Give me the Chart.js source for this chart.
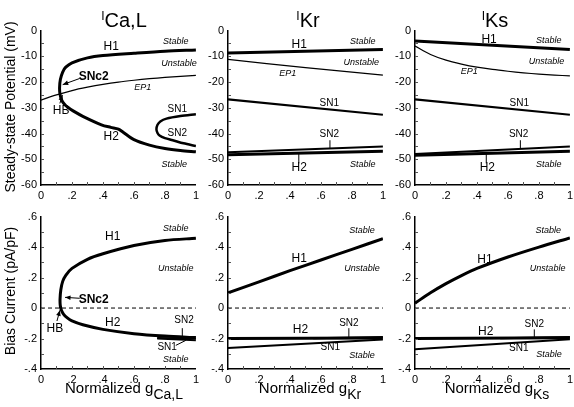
<!DOCTYPE html>
<html>
<head>
<meta charset="utf-8">
<script src="https://cdn.jsdelivr.net/npm/chart.js@4.4.1/dist/chart.umd.min.js"></script>
<style>
  body { margin:0; background:#fff; }
  #wrap { position:relative; width:574px; height:407px; background:#fff; overflow:hidden;
          font-family:"Liberation Sans", Arial, Helvetica, sans-serif; color:#000; }
  canvas { position:absolute; }
  .ttl { position:absolute; width:120px; top:10px; font-size:20px; line-height:20px; text-align:center; white-space:nowrap; }
  .ttl span { font-size:12px; position:relative; top:-7px; }
  .xt { position:absolute; width:180px; top:380px; font-size:15px; line-height:15px; text-align:center; white-space:nowrap; }
  .xt span { font-size:14px; position:relative; top:6px; }
  .yt { position:absolute; width:220px; height:16px; font-size:14px; line-height:16px; text-align:center;
        white-space:nowrap; transform:rotate(-90deg); transform-origin:center; }
</style>
</head>
<body>
<div id="wrap">
  <canvas id="c1"></canvas><canvas id="c2"></canvas><canvas id="c3"></canvas>
  <canvas id="c4"></canvas><canvas id="c5"></canvas><canvas id="c6"></canvas>
  <div class="ttl" style="left:64px"><span>I</span>Ca,L</div>
  <div class="ttl" style="left:248px"><span>I</span>Kr</div>
  <div class="ttl" style="left:435px"><span>I</span>Ks</div>
  <div class="xt" style="left:34px">Normalized g<span>Ca,L</span></div>
  <div class="xt" style="left:220px">Normalized g<span>Kr</span></div>
  <div class="xt" style="left:407px">Normalized g<span>Ks</span></div>
  <div class="yt" style="left:-100px;top:99px">Steady-state Potential (mV)</div>
  <div class="yt" style="left:-100px;top:283px">Bias Current (pA/pF)</div>
</div>
<script>
// tick values / labels
var gTickVals = [0, 0.2, 0.4, 0.6, 0.8, 1];
var gTickText = ['0', '.2', '.4', '.6', '.8', '1'];
var vTickVals = [-60, -50, -40, -30, -20, -10, 0];
var vTickText = ['-60', '-50', '-40', '-30', '-20', '-10', '0'];
var iTickVals = [-0.4, -0.2, 0, 0.2, 0.4, 0.6];
var iTickText = ['-.4', '-.2', '0', '.2', '.4', '.6'];

// ---- top row: steady-state potential (mV) ----
// ICa,L : H1/H2 branch (one C shaped curve, upper end first)
var caH_g = [1, 0.8, 0.6, 0.4, 0.3, 0.2, 0.16, 0.14, 0.125, 0.12, 0.122, 0.132, 0.15, 0.175, 0.21, 0.27, 0.39, 0.45, 0.5, 0.53, 0.6, 0.7, 0.8, 0.9, 1];
var caH_v = [-7.5, -8.0, -8.8, -9.7, -10.6, -12.5, -14.2, -16.1, -19, -22, -24.5, -26.8, -28.5, -29.9, -31.3, -33.3, -36.6, -37.6, -38.3, -39.5, -42.4, -44.5, -45.8, -46.6, -47.1];
var caEP1_g = [0, 0.1, 0.2, 0.3, 0.4, 0.5, 0.6, 0.7, 0.8, 0.9, 1];
var caEP1_v = [-27, -25, -23.3, -22, -20.9, -20, -19.3, -18.7, -18.2, -17.8, -17.4];
var caSN_g = [1, 0.9, 0.81, 0.77, 0.752, 0.745, 0.752, 0.765, 0.8, 0.85, 0.92, 1];
var caSN_v = [-32.5, -33.2, -34.2, -35.3, -36.6, -38.3, -39.8, -40.8, -41.8, -42.6, -43.8, -44.9];
// IKr
var krH1_g = [0, 1], krH1_v = [-8.7, -7.3];
var krEP1_g = [0, 0.5, 1], krEP1_v = [-11.2, -14.4, -17.3];
var krSN1_g = [0, 1], krSN1_v = [-26.7, -32.7];
var krSN2_g = [0, 1], krSN2_v = [-47.3, -45];
var krH2_g = [0, 1], krH2_v = [-48.2, -46.9];
// IKs
var ksH1_g = [0, 1], ksH1_v = [-4, -7.3];
var ksEP1_g = [0, 0.1, 0.2, 0.3, 0.4, 0.5, 0.6, 0.7, 0.8, 0.9, 1];
var ksEP1_v = [-6, -9.3, -11.5, -13, -14.2, -15.1, -15.8, -16.4, -16.9, -17.3, -17.6];
var ksSN1_g = [0, 1], ksSN1_v = [-26.7, -32.7];
var ksSN2_g = [0, 1], ksSN2_v = [-48, -45];
var ksH2_g = [0, 1], ksH2_v = [-48.4, -46.9];

// ---- bottom row: bias current (pA/pF) ----
var zero_g = [0, 1], zero_i = [0, 0];
var caHI_g = [1, 0.8, 0.6, 0.4, 0.3, 0.2, 0.16, 0.14, 0.128, 0.123, 0.124, 0.13, 0.145, 0.17, 0.2, 0.27, 0.4, 0.6, 0.8, 1];
var caHI_i = [0.458, 0.443, 0.41, 0.356, 0.32, 0.26, 0.215, 0.175, 0.12, 0.06, 0.02, -0.01, -0.04, -0.065, -0.085, -0.11, -0.14, -0.168, -0.184, -0.194];
var caSN1I_g = [0.75, 1], caSN1I_i = [-0.2, -0.212];
var caSN2I_g = [0.75, 1], caSN2I_i = [-0.197, -0.2];
var krH1I_g = [0, 0.2, 0.4, 0.6, 0.8, 1], krH1I_i = [0.1, 0.172, 0.245, 0.315, 0.385, 0.455];
var krH2I_g = [0, 1], krH2I_i = [-0.2, -0.197];
var krSN2I_g = [0.55, 1], krSN2I_i = [-0.198, -0.19];
var krSN1I_g = [0, 1], krSN1I_i = [-0.262, -0.207];
var ksH1I_g = [0, 0.1, 0.2, 0.3, 0.4, 0.6, 0.8, 1], ksH1I_i = [0.032, 0.1, 0.16, 0.213, 0.26, 0.335, 0.4, 0.46];
var ksH2I_g = [0, 1], ksH2I_i = [-0.2, -0.195];
var ksSN2I_g = [0.55, 1], ksSN2I_i = [-0.198, -0.19];
var ksSN1I_g = [0, 1], ksSN1I_i = [-0.27, -0.205];

var SANS = '"Liberation Sans", Arial, Helvetica, sans-serif';
var IT = 'italic 9px ' + SANS, N12 = '12px ' + SANS, N10 = '10px ' + SANS, B12 = 'bold 12px ' + SANS;

function line(g, v, w, tension, dash)
{
  return {
    data: g.map(function(x, i){ return {x: x, y: v[i]}; }),
    showLine: true, borderColor: '#000', borderWidth: w, pointRadius: 0,
    tension: tension || 0, fill: false, borderDash: dash || []
  };
}

// labels, leader lines and the small inside ticks
function notes(texts, lines, minorY)
{
  return {
    id: 'notes',
    afterDatasetsDraw: function(chart){
      var ctx = chart.ctx, sx = chart.scales.x, sy = chart.scales.y, a = chart.chartArea;
      ctx.save();
      ctx.strokeStyle = '#555'; ctx.lineWidth = 1;
      for (var k = 1; k < 10; k++) {
        var px = Math.round(sx.getPixelForValue(k / 10)) + 0.5;
        ctx.beginPath(); ctx.moveTo(px, a.bottom); ctx.lineTo(px, a.bottom - 3); ctx.stroke();
      }
      for (var v = sy.min + minorY; v < sy.max - 1e-9; v += minorY) {
        var py = Math.round(sy.getPixelForValue(v)) + 0.5;
        ctx.beginPath(); ctx.moveTo(a.left, py); ctx.lineTo(a.left + 3, py); ctx.stroke();
      }
      ctx.strokeStyle = '#000'; ctx.fillStyle = '#000';
      lines.forEach(function(l){
        var x1 = sx.getPixelForValue(l[0]), y1 = sy.getPixelForValue(l[1]);
        var x2 = sx.getPixelForValue(l[2]), y2 = sy.getPixelForValue(l[3]);
        ctx.lineWidth = 1;
        ctx.beginPath(); ctx.moveTo(x1, y1); ctx.lineTo(x2, y2); ctx.stroke();
        if (l[4]) {
          var ang = Math.atan2(y2 - y1, x2 - x1);
          ctx.beginPath();
          ctx.moveTo(x2, y2);
          ctx.lineTo(x2 - 6 * Math.cos(ang - 0.4), y2 - 6 * Math.sin(ang - 0.4));
          ctx.lineTo(x2 - 6 * Math.cos(ang + 0.4), y2 - 6 * Math.sin(ang + 0.4));
          ctx.closePath(); ctx.fill();
        }
      });
      ctx.textAlign = 'center'; ctx.textBaseline = 'middle';
      texts.forEach(function(t){
        ctx.font = t[3];
        ctx.fillText(t[0], sx.getPixelForValue(t[1]), sy.getPixelForValue(t[2]));
      });
      ctx.restore();
    }
  };
}

function makePanel(id, left, top, h, yMin, yMax, yVals, yText, minorY, datasets, texts, lines)
{
  var W = 156, padL = 40, padT = 10, padR = 6, xH = 24;
  var cv = document.getElementById(id);
  cv.width = padL + W + padR; cv.height = padT + h + xH;
  cv.style.left = (left - padL) + 'px'; cv.style.top = (top - padT) + 'px';
  var tickFont = {family: SANS, size: 11};
  new Chart(cv, {
    type: 'scatter',
    data: {datasets: datasets},
    options: {
      responsive: false, animation: false, devicePixelRatio: 1,
      layout: {padding: {top: padT, right: padR, left: 0, bottom: 0}},
      plugins: {legend: {display: false}, tooltip: {enabled: false}},
      scales: {
        x: {
          type: 'linear', min: 0, max: 1,
          afterBuildTicks: function(s){ s.ticks = gTickVals.map(function(v){ return {value: v}; }); },
          afterFit: function(s){ s.height = xH; },
          ticks: {padding: 4, color: '#000', font: tickFont, maxRotation: 0,
                  callback: function(v, i){ return gTickText[i]; }},
          grid: {display: true, drawOnChartArea: false, drawTicks: false},
          border: {display: true, color: '#000', width: 1.5}
        },
        y: {
          type: 'linear', min: yMin, max: yMax,
          afterBuildTicks: function(s){ s.ticks = yVals.map(function(v){ return {value: v}; }); },
          afterFit: function(s){ s.width = padL; },
          ticks: {padding: 4, color: '#000', font: tickFont,
                  callback: function(v, i){ return yText[i]; }},
          grid: {display: true, drawOnChartArea: false, drawTicks: false},
          border: {display: true, color: '#000', width: 1.5}
        }
      }
    },
    plugins: [notes(texts, lines, minorY)]
  });
}

// ICa,L potential
makePanel('c1', 41, 30, 155, -60, 0, vTickVals, vTickText, 5, [
  line(caH_g, caH_v, 3, 0.3),
  line(caEP1_g, caEP1_v, 1.2, 0.3),
  line(caSN_g, caSN_v, 2.5, 0.3)
], [
  ['Stable', 0.87, -4.1, IT], ['H1', 0.453, -6.3, N12], ['Unstable', 0.89, -12.7, IT],
  ['SNc2', 0.34, -18, B12], ['EP1', 0.656, -22, IT], ['HB', 0.13, -31, N12],
  ['SN1', 0.88, -30.7, N10], ['SN2', 0.88, -40, N10], ['H2', 0.453, -41.3, N12], ['Stable', 0.86, -51.9, IT]
], [
  [0.25, -18.6, 0.14, -21, true], [0.122, -28.3, 0.138, -25, true]
]);

// IKr potential
makePanel('c2', 228, 30, 155, -60, 0, vTickVals, vTickText, 5, [
  line(krH1_g, krH1_v, 3),
  line(krEP1_g, krEP1_v, 1.2, 0.3),
  line(krSN1_g, krSN1_v, 2.2),
  line(krSN2_g, krSN2_v, 2),
  line(krH2_g, krH2_v, 3)
], [
  ['Stable', 0.87, -4.3, IT], ['H1', 0.46, -5.5, N12], ['Unstable', 0.86, -12.4, IT],
  ['EP1', 0.385, -16.5, IT], ['SN1', 0.654, -28.1, N10], ['SN2', 0.654, -40.4, N10],
  ['H2', 0.46, -53.3, N12], ['Stable', 0.87, -51.9, IT]
], [
  [0.658, -42.6, 0.658, -45.8], [0.457, -47.4, 0.457, -51.6]
]);

// IKs potential
makePanel('c3', 415, 30, 155, -60, 0, vTickVals, vTickText, 5, [
  line(ksH1_g, ksH1_v, 3),
  line(ksEP1_g, ksEP1_v, 1.2, 0.3),
  line(ksSN1_g, ksSN1_v, 2.2),
  line(ksSN2_g, ksSN2_v, 2),
  line(ksH2_g, ksH2_v, 3)
], [
  ['H1', 0.478, -3.6, N12], ['Stable', 0.864, -3.9, IT], ['Unstable', 0.849, -12, IT],
  ['EP1', 0.35, -15.9, IT], ['SN1', 0.673, -28.1, N10], ['SN2', 0.669, -40.4, N10],
  ['H2', 0.467, -53.3, N12], ['Stable', 0.864, -51.9, IT]
], [
  [0.68, -42.6, 0.68, -45.8], [0.46, -47.4, 0.46, -51.6]
]);

// ICa,L bias current
makePanel('c4', 41, 216, 153, -0.4, 0.6, iTickVals, iTickText, 0.1, [
  line(zero_g, zero_i, 1, 0, [4, 3]),
  line(caHI_g, caHI_i, 3, 0.3),
  line(caSN1I_g, caSN1I_i, 2),
  line(caSN2I_g, caSN2I_i, 2)
], [
  ['Stable', 0.87, 0.52, IT], ['H1', 0.463, 0.47, N12], ['Unstable', 0.87, 0.26, IT],
  ['SNc2', 0.34, 0.058, B12], ['HB', 0.09, -0.134, N12], ['H2', 0.463, -0.097, N12],
  ['SN2', 0.923, -0.08, N10], ['SN1', 0.814, -0.256, N10], ['Stable', 0.87, -0.335, IT]
], [
  [0.25, 0.064, 0.155, 0.07, true], [0.103, -0.085, 0.122, -0.015, true],
  [0.912, -0.132, 0.912, -0.19], [0.87, -0.245, 0.935, -0.212]
]);

// IKr bias current
makePanel('c5', 228, 216, 153, -0.4, 0.6, iTickVals, iTickText, 0.1, [
  line(zero_g, zero_i, 1, 0, [4, 3]),
  line(krH1I_g, krH1I_i, 3, 0.3),
  line(krH2I_g, krH2I_i, 3),
  line(krSN2I_g, krSN2I_i, 2),
  line(krSN1I_g, krSN1I_i, 2)
], [
  ['Stable', 0.865, 0.508, IT], ['H1', 0.46, 0.327, N12], ['Unstable', 0.865, 0.26, IT],
  ['H2', 0.468, -0.145, N12], ['SN2', 0.78, -0.097, N10], ['SN1', 0.66, -0.256, N10],
  ['Stable', 0.865, -0.313, IT]
], [
  [0.78, -0.132, 0.78, -0.19]
]);

// IKs bias current
makePanel('c6', 415, 216, 153, -0.4, 0.6, iTickVals, iTickText, 0.1, [
  line(zero_g, zero_i, 1, 0, [4, 3]),
  line(ksH1I_g, ksH1I_i, 3, 0.3),
  line(ksH2I_g, ksH2I_i, 3),
  line(ksSN2I_g, ksSN2I_i, 2),
  line(ksSN1I_g, ksSN1I_i, 2)
], [
  ['Stable', 0.86, 0.508, IT], ['H1', 0.452, 0.317, N12], ['Unstable', 0.856, 0.26, IT],
  ['H2', 0.456, -0.152, N12], ['SN2', 0.77, -0.106, N10], ['SN1', 0.67, -0.263, N10],
  ['Stable', 0.865, -0.302, IT]
], [
  [0.77, -0.14, 0.77, -0.19]
]);
</script>
</body>
</html>
